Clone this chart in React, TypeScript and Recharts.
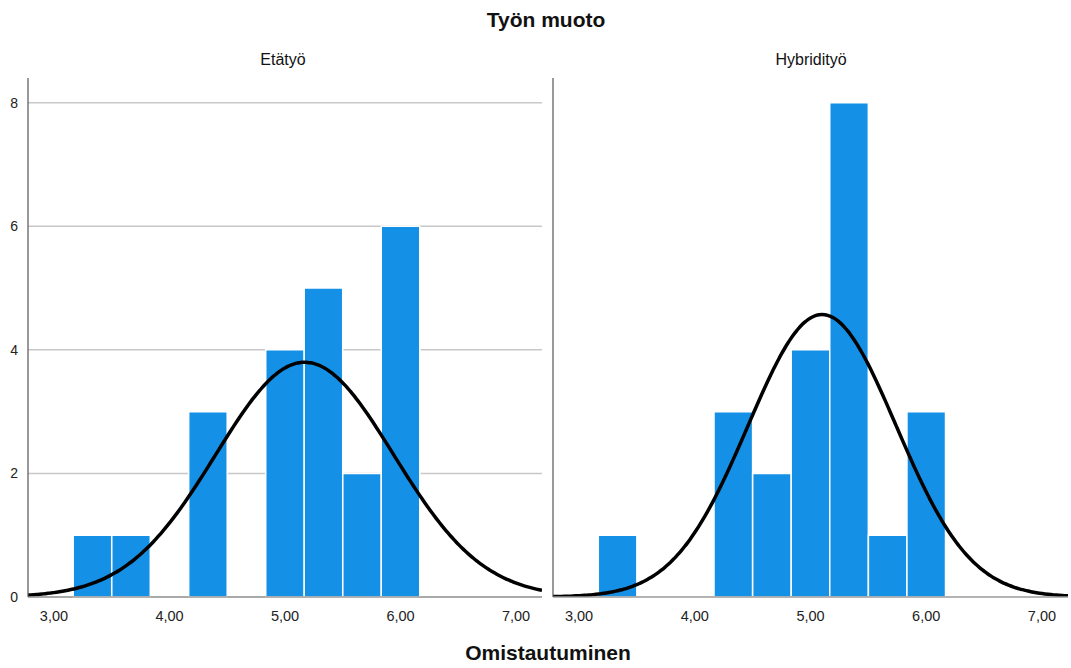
import { ComposedChart, Line, XAxis, YAxis, CartesianGrid, ReferenceArea } from 'recharts'

// histogram bins (width 1/3), shared by both panels
const BIN_WIDTH = 1 / 3
const binCenters = [3.333, 3.667, 4.0, 4.333, 4.667, 5.0, 5.333, 5.667, 6.0]

const etatyoCounts = [1, 1, 0, 3, 0, 4, 5, 2, 6]
const hybridiCounts = [1, 0, 0, 3, 2, 4, 8, 1, 3]

// fitted normal curves (mean, sd, n)
const etatyoNormal = { mean: 5.17, sd: 0.77, n: 22 }
const hybridiNormal = { mean: 5.1, sd: 0.64, n: 22 }

const xTicks = [3, 4, 5, 6, 7]
const yTicks = [0, 2, 4, 6, 8]
const X_DOMAIN: [number, number] = [2.775, 7.225]
const Y_DOMAIN: [number, number] = [0, 8.4]

const BAR_COLOR = '#1490e6'
const FONT = '"Liberation Sans", Arial, sans-serif'

function normalCurve(p: { mean: number; sd: number; n: number }) {
  const pts: { x: number; y: number }[] = []
  const steps = 180
  for (let i = 0; i <= steps; i++) {
    const x = X_DOMAIN[0] + ((X_DOMAIN[1] - X_DOMAIN[0]) * i) / steps
    const z = (x - p.mean) / p.sd
    const y = (p.n * BIN_WIDTH * Math.exp(-0.5 * z * z)) / (p.sd * Math.sqrt(2 * Math.PI))
    pts.push({ x, y })
  }
  return pts
}

const fmtX = (v: number) => v.toFixed(2).replace('.', ',')

interface PanelProps {
  counts: number[]
  normal: { mean: number; sd: number; n: number }
  width: number
  yAxisWidth: number
  showYTicks: boolean
}

function Panel({ counts, normal, width, yAxisWidth, showYTicks }: PanelProps) {
  const curve = normalCurve(normal)
  return (
    <ComposedChart
      width={width}
      height={562}
      data={curve}
      margin={{ top: 8, right: 1, bottom: 0, left: 0 }}
    >
      <CartesianGrid
        vertical={false}
        horizontalValues={yTicks}
        stroke="#c8c8c8"
        strokeWidth={1.5}
      />
      <XAxis
        type="number"
        dataKey="x"
        domain={X_DOMAIN}
        ticks={xTicks}
        allowDataOverflow
        tickFormatter={fmtX}
        tickLine={false}
        tickMargin={8}
        axisLine={{ stroke: '#9a9a9a', strokeWidth: 1.5 }}
        tick={{ fill: '#222', fontSize: 14.5, fontFamily: FONT }}
        height={35}
        interval={0}
      />
      <YAxis
        type="number"
        domain={Y_DOMAIN}
        ticks={yTicks}
        allowDataOverflow
        width={yAxisWidth}
        tickLine={false}
        tickMargin={4}
        axisLine={{ stroke: '#555', strokeWidth: 1.2 }}
        tick={showYTicks ? { fill: '#222', fontSize: 14, fontFamily: FONT } : false}
        interval={0}
      />
      {counts.map((c, i) =>
        c > 0 ? (
          <ReferenceArea
            key={`bin-${i}`}
            x1={binCenters[i] - BIN_WIDTH / 2}
            x2={binCenters[i] + BIN_WIDTH / 2}
            y1={0}
            y2={c}
            fill={BAR_COLOR}
            fillOpacity={1}
            stroke="#ffffff"
            strokeWidth={1.5}
          />
        ) : null
      )}
      <Line
        type="monotone"
        dataKey="y"
        stroke="#000"
        strokeWidth={3.5}
        dot={false}
        activeDot={false}
        isAnimationActive={false}
      />
    </ComposedChart>
  )
}

export default function App() {
  return (
    <div
      style={{
        position: 'absolute',
        left: 0,
        top: 0,
        width: 1071,
        height: 668,
        background: '#fff',
        fontFamily: FONT,
        color: '#111',
        overflow: 'hidden',
      }}
    >
      <div
        style={{
          position: 'absolute',
          left: 446,
          top: 8,
          width: 200,
          lineHeight: '24px',
          textAlign: 'center',
          fontSize: 21,
          fontWeight: 'bold',
        }}
      >
        Työn muoto
      </div>
      <div
        style={{
          position: 'absolute',
          left: 183,
          top: 50,
          width: 200,
          lineHeight: '20px',
          textAlign: 'center',
          fontSize: 16,
        }}
      >
        Etätyö
      </div>
      <div
        style={{
          position: 'absolute',
          left: 711,
          top: 50,
          width: 200,
          lineHeight: '20px',
          textAlign: 'center',
          fontSize: 16,
        }}
      >
        Hybridityö
      </div>

      <div style={{ position: 'absolute', left: 0, top: 70 }}>
        <Panel counts={etatyoCounts} normal={etatyoNormal} width={543} yAxisWidth={28} showYTicks />
      </div>
      <div style={{ position: 'absolute', left: 540, top: 70 }}>
        <Panel counts={hybridiCounts} normal={hybridiNormal} width={529} yAxisWidth={13} showYTicks={false} />
      </div>

      <div
        style={{
          position: 'absolute',
          left: 448,
          top: 641,
          width: 200,
          lineHeight: '24px',
          textAlign: 'center',
          fontSize: 21,
          fontWeight: 'bold',
        }}
      >
        Omistautuminen
      </div>
    </div>
  )
}
